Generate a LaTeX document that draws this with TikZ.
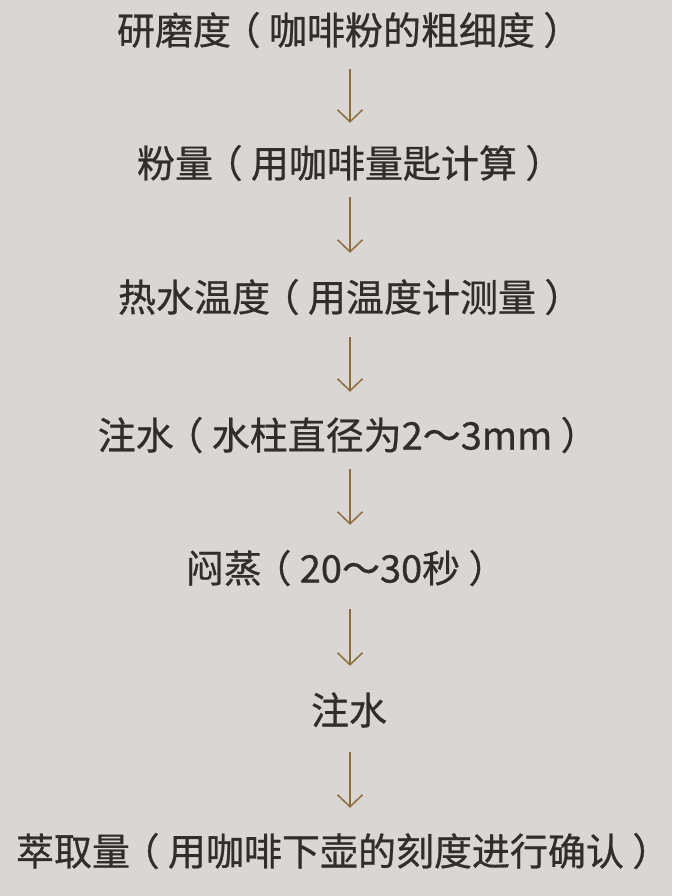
\documentclass[tikz,border=0pt]{standalone}
\usepackage{fontspec}
\newfontfamily\cjk[FakeBold=0.7]{Noto Sans CJK SC}
\usepackage{xcolor}
\usetikzlibrary{arrows.meta}
\definecolor{paper}{HTML}{DAD6D3}
\definecolor{ink}{HTML}{2F2E2D}
\definecolor{gold}{HTML}{8C6E3E}
\newcommand\lpar{\kern-0.22em（\kern0.22em}
\newcommand\rpar{\kern0.22em）\kern-0.22em}
\tikzset{>=latex}
\tikzset{
  stage/.style={inner sep=0pt, text=ink,
    font=\cjk\fontsize{38}{40}\selectfont,
    text height=33.5pt, text depth=4.5pt},
  flow/.style={draw=gold, line width=1.5pt,
    -{Straight Barb[length=12pt, width=25pt, line width=1.5pt]}}
}

\begin{document}
\begin{tikzpicture}[x=1pt, y=-1pt]
      \fill[paper] (0,0) rectangle (672,896);
      \useasboundingbox (0,0) rectangle (672,896);
      % steps
      \node[stage] (grind)  at (345,30)  {研磨度\lpar 咖啡粉的粗细度\rpar};
      \node[stage] (dose)   at (346,163) {粉量\lpar 用咖啡量匙计算\rpar};
      \node[stage] (temp)   at (346,297) {热水温度\lpar 用温度计测量\rpar};
      \node[stage] (pour)   at (344,435) {注水\lpar 水柱直径为2～3mm\rpar};
      \node[stage] (bloom)  at (342,568) {闷蒸\lpar 20～30秒\rpar};
      \node[stage] (pour2)  at (349,710) {注水};
      \node[stage] (yield)  at (339,851) {萃取量\lpar 用咖啡下壶的刻度进行确认\rpar};
      % arrows
      \draw[flow, shorten <=20pt, shorten >=21pt] (grind.south -| 350,0) -- (dose.north -| 350,0);
      \draw[flow, shorten <=15pt, shorten >=25pt] (dose.south -| 350,0) -- (temp.north -| 350,0);
      \draw[flow, shorten <=21pt, shorten >=24pt] (temp.south -| 350,0) -- (pour.north -| 350,0);
      \draw[flow, shorten <=15pt, shorten >=24pt] (pour.south -| 350,0) -- (bloom.north -| 350,0);
      \draw[flow, shorten <=22pt, shorten >=25pt] (bloom.south -| 350,0) -- (pour2.north -| 350,0);
      \draw[flow, shorten <=23pt, shorten >=24pt] (pour2.south -| 350,0) -- (yield.north -| 350,0);
    \end{tikzpicture}
\end{document}
